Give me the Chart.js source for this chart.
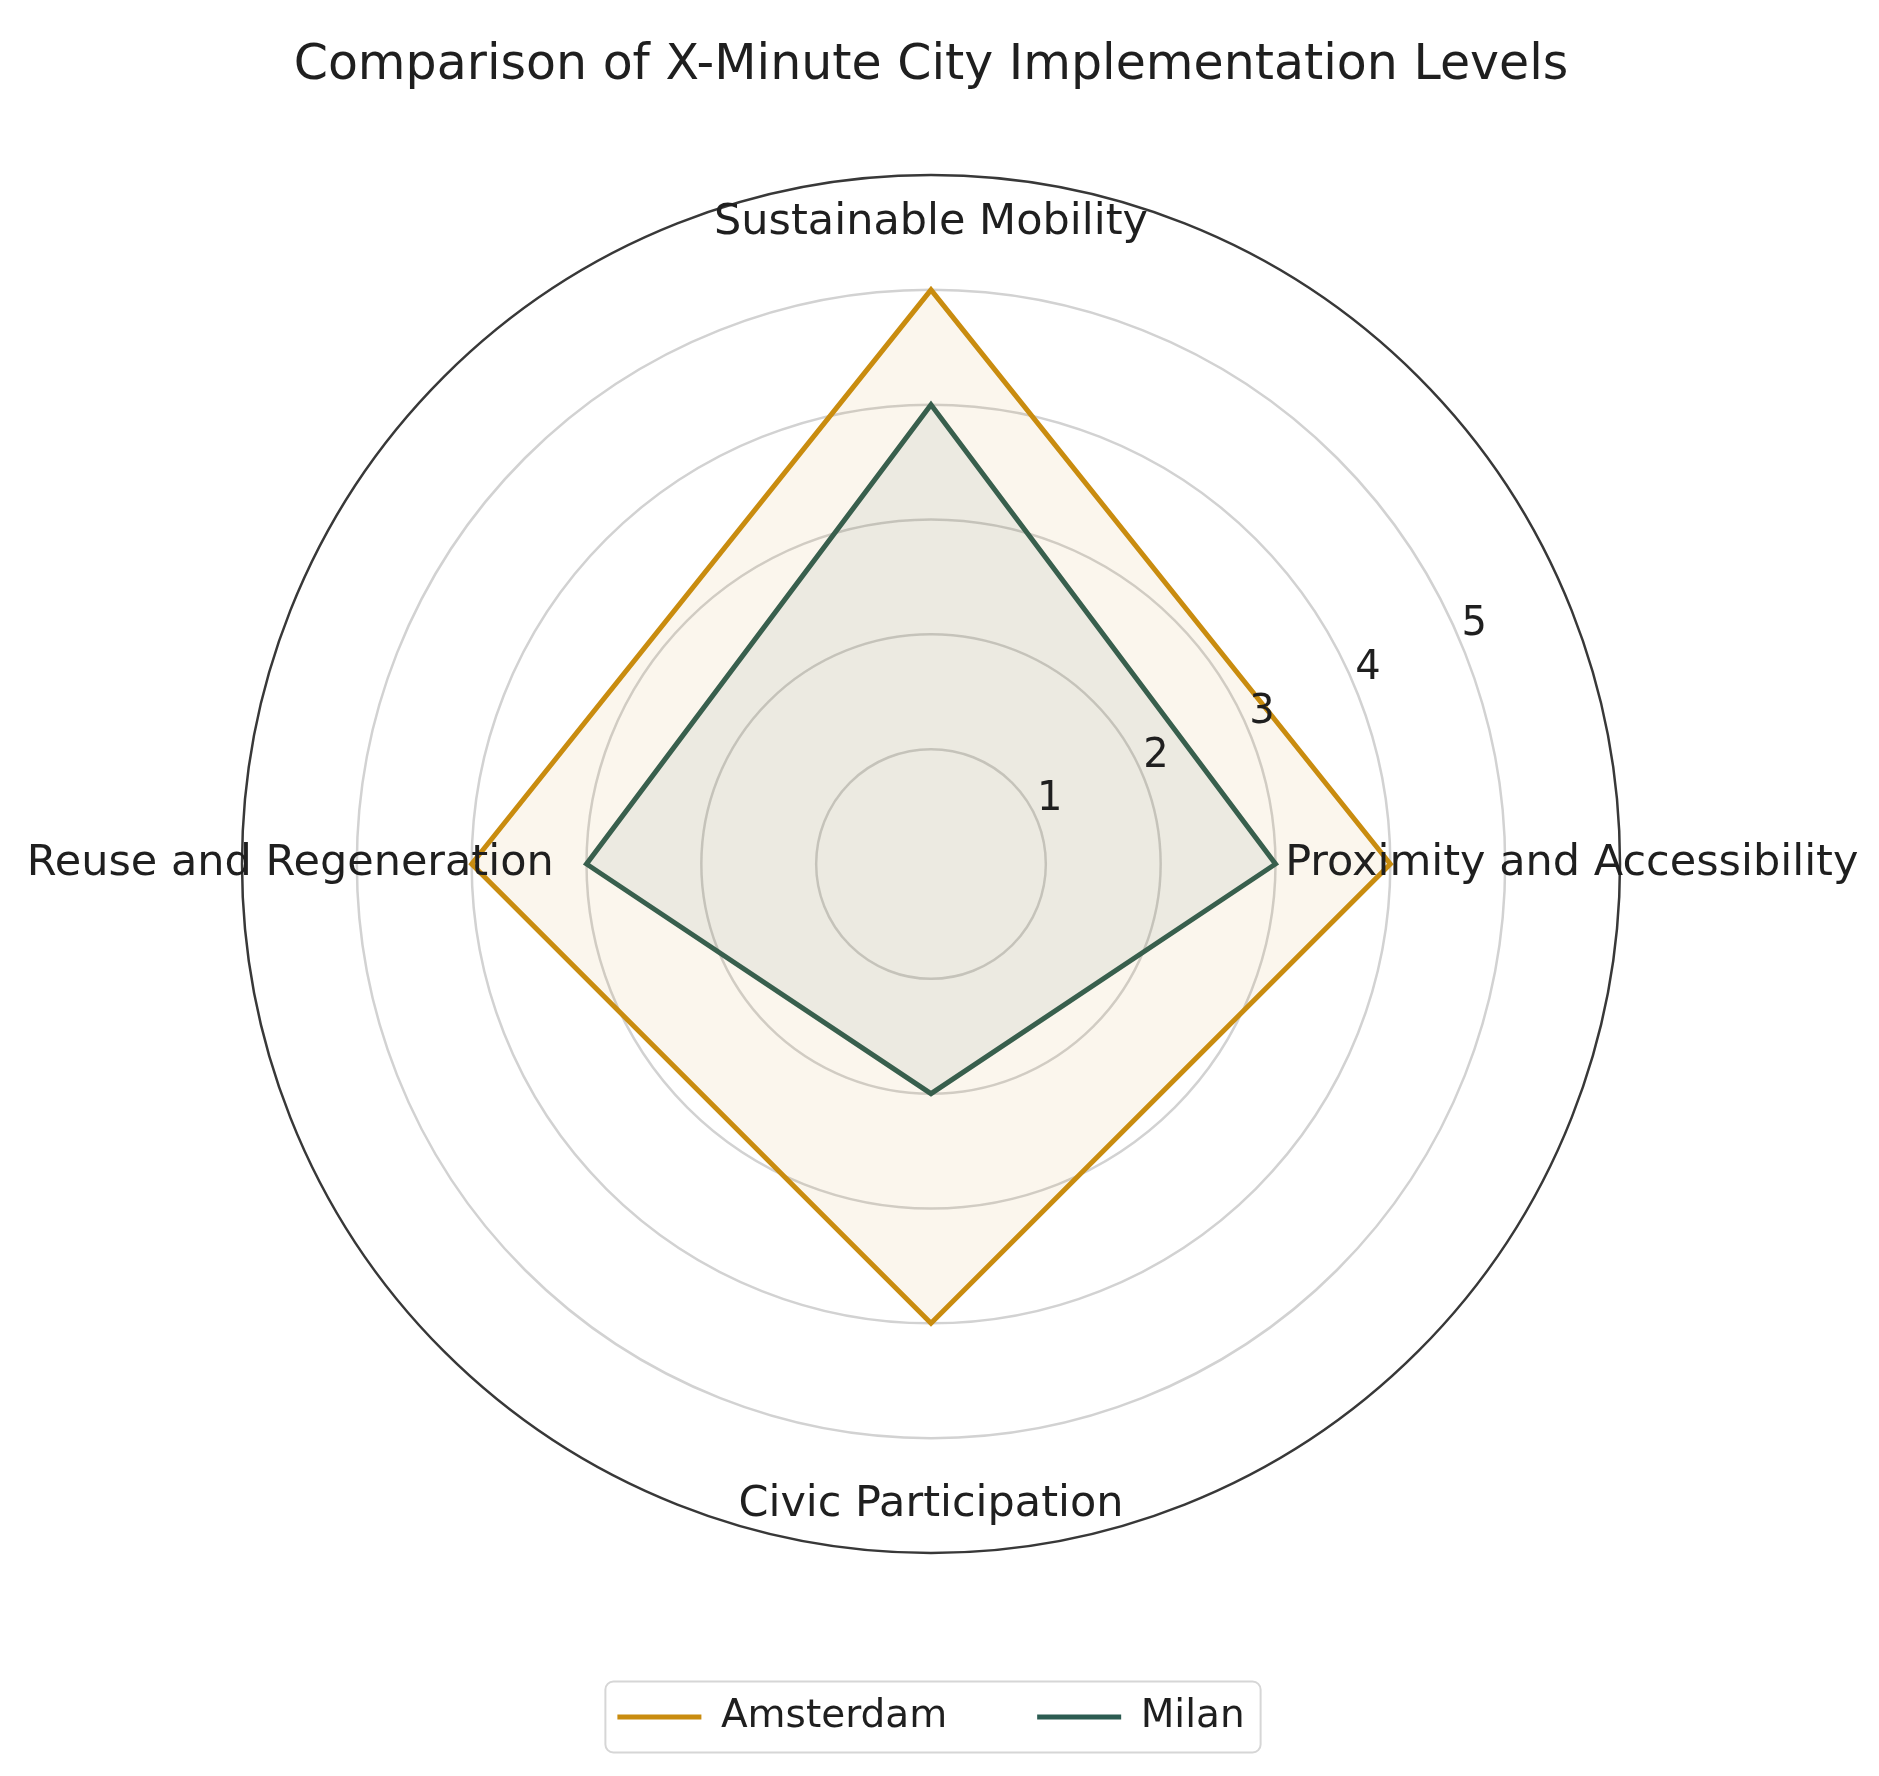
<!DOCTYPE html>
<html>
<head>
<meta charset="utf-8">
<title>X-Minute City radar</title>
<script src="https://cdn.jsdelivr.net/npm/chart.js@4"></script>
<style>
  html, body { margin: 0; padding: 0; background: #fff; }
  #wrap { width: 1879px; height: 1776px; }
</style>
</head>
<body>
<div id="wrap"><canvas id="radarChart"></canvas></div>
<script>
const categories = ['Sustainable Mobility', 'Proximity and Accessibility', 'Civic Participation', 'Reuse and Regeneration'];
const amsterdamScores = [5, 4, 4, 4];
const milanScores = [4, 3, 2, 3];
const tickValues = [1, 2, 3, 4, 5];
const rMax = 6;

const AMS_COLOR = '#c98c0f';
const MIL_COLOR = '#2c5c52';
const TEXT_COLOR = '#1f1f1f';
const FONT = "'DejaVu Sans', sans-serif";
const RLABEL_ANGLE = 22.5; // matplotlib puts the r labels at this angle

Chart.defaults.font.family = FONT;
Chart.defaults.color = TEXT_COLOR;

// axis labels centred on a ring + r tick labels along one angle + legend frame
const polarLabels = {
    id: 'polarLabels',
    afterDraw(chart) {
        const scale = chart.scales.r;
        const ctx = chart.ctx;
        ctx.save();
        ctx.fillStyle = TEXT_COLOR;
        ctx.font = '43px ' + FONT;
        ctx.textAlign = 'center';
        ctx.textBaseline = 'middle';
        categories.forEach((label, i) => {
            const p = scale.getPointPosition(i, scale.drawingArea * 0.93);
            ctx.fillText(label, p.x, p.y);
        });

        ctx.font = '40px ' + FONT;
        ctx.textAlign = 'left';
        ctx.textBaseline = 'bottom';
        const a = RLABEL_ANGLE * Math.PI / 180;
        tickValues.forEach((v) => {
            const d = scale.getDistanceFromCenterForValue(v);
            ctx.fillText(String(v), scale.xCenter + d * Math.cos(a), scale.yCenter - d * Math.sin(a));
        });

        // frame round the legend items
        const hb = chart.legend.legendHitBoxes;
        if (hb && hb.length) {
            const left = Math.min(...hb.map(b => b.left)) - 12;
            const right = Math.max(...hb.map(b => b.left + b.width)) + 16;
            const top = Math.min(...hb.map(b => b.top)) - 16;
            const bottom = Math.max(...hb.map(b => b.top + b.height)) + 16;
            ctx.beginPath();
            ctx.roundRect(left, top, right - left, bottom - top, 8);
            ctx.strokeStyle = '#d6d6d6';
            ctx.lineWidth = 2;
            ctx.stroke();
        }
        ctx.restore();
    }
};

const ctx = document.getElementById('radarChart').getContext('2d');
const chartConfig = {
    type: 'radar',
    data: {
        labels: categories,
        datasets: [{
            label: 'Amsterdam',
            data: amsterdamScores,
            borderColor: AMS_COLOR,
            backgroundColor: 'rgba(204, 142, 20, 0.08)',
            borderWidth: 5,
            pointRadius: 0,
            fill: true
        }, {
            label: 'Milan',
            data: milanScores,
            borderColor: MIL_COLOR,
            backgroundColor: 'rgba(47, 94, 84, 0.08)',
            borderWidth: 5,
            pointRadius: 0,
            fill: true
        }]
    },
    options: {
        responsive: true,
        maintainAspectRatio: false,
        animation: false,
        devicePixelRatio: 1,
        layout: {
            padding: { top: 0, left: 0, right: 17, bottom: 29.5 }
        },
        scales: {
            r: {
                min: 0,
                max: rMax,
                ticks: { display: false, stepSize: 1 },
                angleLines: { display: false },
                pointLabels: { display: false },
                grid: {
                    circular: true,
                    color: (c) => c.tick && c.tick.value === rMax ? '#383838' : '#d2d2d2',
                    lineWidth: (c) => c.tick && c.tick.value === rMax ? 2.5 : 2.5
                }
            }
        },
        plugins: {
            title: {
                display: true,
                text: 'Comparison of X-Minute City Implementation Levels',
                color: TEXT_COLOR,
                font: { size: 49, weight: 'normal' },
                padding: { top: 37, bottom: 78.6 }
            },
            // empty spacer between the plot and the legend
            subtitle: {
                display: true,
                position: 'bottom',
                text: '',
                weight: 500,
                font: { size: 10 },
                padding: { top: 41.5, bottom: 0 }
            },
            legend: {
                position: 'bottom',
                labels: {
                    usePointStyle: true,
                    pointStyle: 'line',
                    pointStyleWidth: 84,
                    boxWidth: 84,
                    padding: 90,
                    color: TEXT_COLOR,
                    font: { size: 39 }
                }
            },
            tooltip: { enabled: false }
        }
    },
    plugins: [polarLabels]
};
var radarChart = new Chart(ctx, chartConfig);
</script>
</body>
</html>
